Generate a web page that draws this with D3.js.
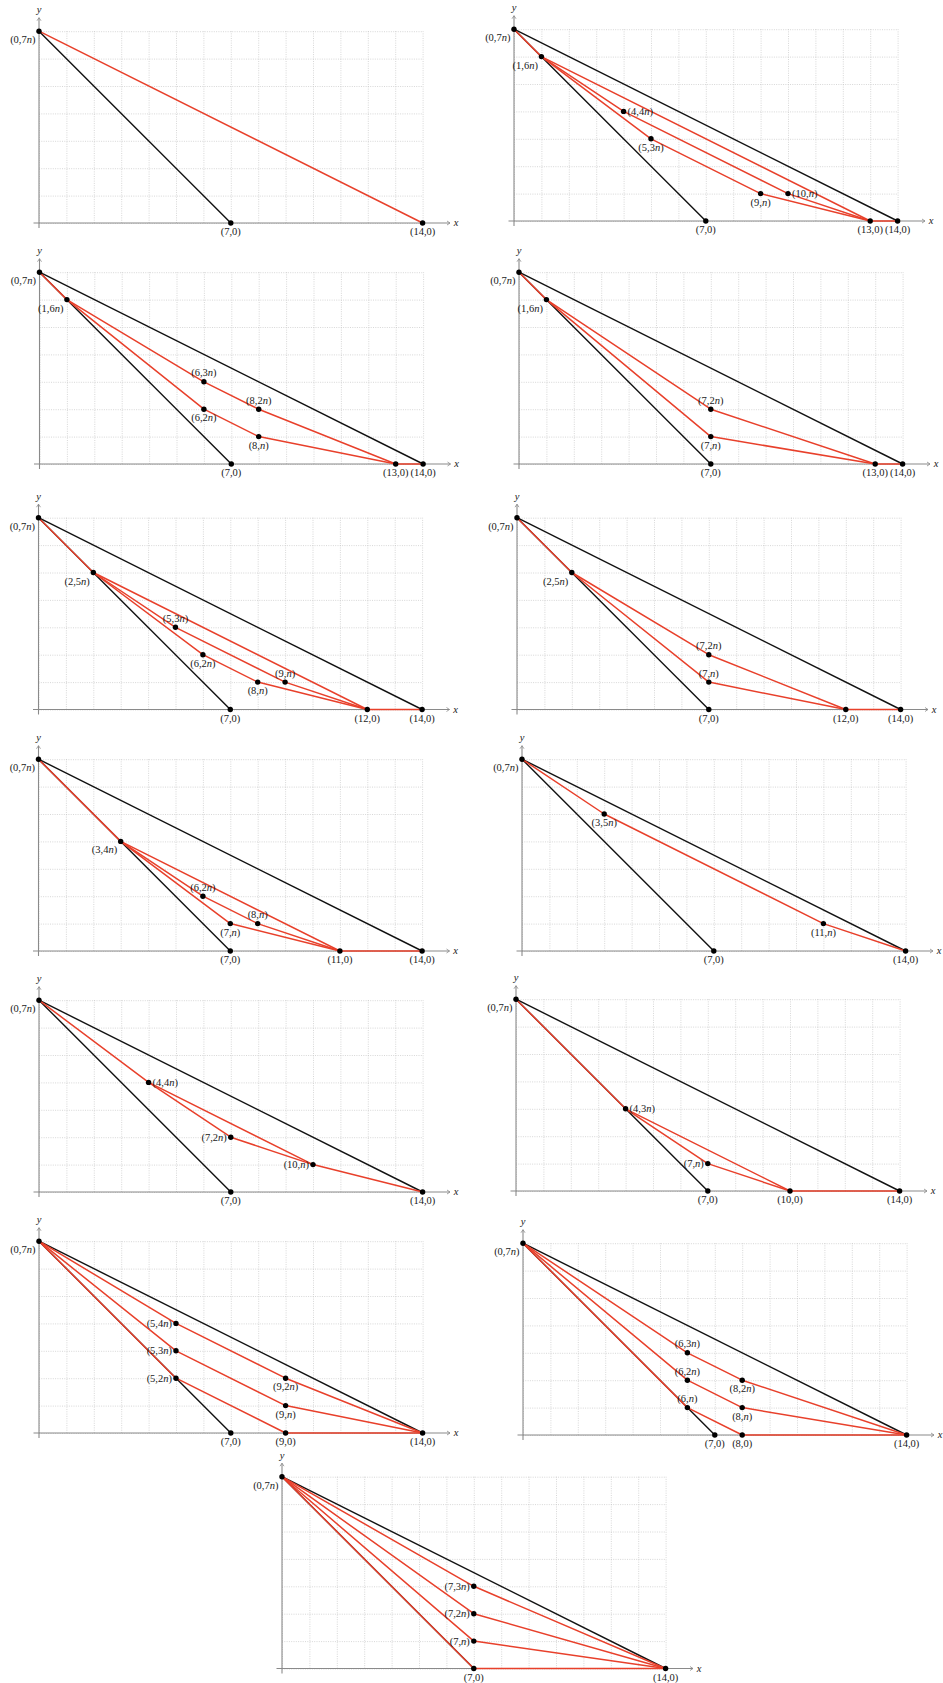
<!DOCTYPE html>
<html>
<head>
<meta charset="utf-8">
<script src="https://cdn.jsdelivr.net/npm/d3@7"></script>
<style>
  body { margin: 0; background: #fff; }
  text { font-family: "Liberation Serif", "DejaVu Serif", serif; font-size: 10.5px; fill: #1a1a1a; }
  .grid line { stroke: #bcbcbc; stroke-width: 0.6; stroke-dasharray: 1,1.3; }
  .grid path { display: none; }
</style>
</head>
<body>
<div id="container"></div>
<script>
// grid values (x in units, y in units of n)
let xValues = d3.range(0, 15)
let yValues = d3.range(0, 8)

// black reference triangle edges, per panel
let triangle = [[[0, 7], [7, 0]], [[0, 7], [14, 0]]]
let blackEdges = [[triangle[0]]].concat(d3.range(12).map(() => triangle))

// red paths, one list per panel
let redPaths = [
  [[[0, 7], [14, 0]]],
  [[[0, 7], [1, 6], [13, 0], [14, 0]], [[1, 6], [4, 4], [10, 1], [13, 0]], [[1, 6], [5, 3], [9, 1], [13, 0]]],
  [[[0, 7], [1, 6], [6, 3], [8, 2], [13, 0], [14, 0]], [[1, 6], [6, 2], [8, 1], [13, 0]]],
  [[[0, 7], [1, 6], [7, 2], [13, 0], [14, 0]], [[1, 6], [7, 1], [13, 0]]],
  [[[0, 7], [2, 5], [12, 0], [14, 0]], [[2, 5], [5, 3], [9, 1], [12, 0]], [[2, 5], [6, 2], [8, 1], [12, 0]]],
  [[[0, 7], [2, 5], [7, 2], [12, 0], [14, 0]], [[2, 5], [7, 1], [12, 0]]],
  [[[0, 7], [3, 4], [11, 0], [14, 0]], [[3, 4], [6, 2], [8, 1], [11, 0]], [[3, 4], [7, 1], [11, 0]]],
  [[[0, 7], [3, 5], [11, 1], [14, 0]]],
  [[[0, 7], [4, 4], [10, 1], [14, 0]], [[4, 4], [7, 2], [10, 1]]],
  [[[0, 7], [4, 3], [10, 0], [14, 0]], [[4, 3], [7, 1], [10, 0]]],
  [[[0, 7], [5, 4], [9, 2], [14, 0]], [[0, 7], [5, 3], [9, 1], [14, 0]], [[0, 7], [5, 2], [9, 0], [14, 0]]],
  [[[0, 7], [6, 3], [8, 2], [14, 0]], [[0, 7], [6, 2], [8, 1], [14, 0]], [[0, 7], [6, 1], [8, 0], [14, 0]]],
  [[[0, 7], [7, 3], [14, 0]], [[0, 7], [7, 2], [14, 0]], [[0, 7], [7, 1], [14, 0]], [[0, 7], [7, 0], [14, 0]]]
]

// labelled points per panel: x, y, side of the label
let marks = [
  [[0, 7, 'bl'], [7, 0, 'b'], [14, 0, 'b']],
  [[0, 7, 'bl'], [1, 6, 'bl'], [4, 4, 'r'], [5, 3, 'b'], [9, 1, 'b'], [10, 1, 'r'], [7, 0, 'b'], [13, 0, 'b'], [14, 0, 'b']],
  [[0, 7, 'bl'], [1, 6, 'bl'], [6, 3, 'a'], [8, 2, 'a'], [6, 2, 'b'], [8, 1, 'b'], [7, 0, 'b'], [13, 0, 'b'], [14, 0, 'b']],
  [[0, 7, 'bl'], [1, 6, 'bl'], [7, 2, 'a'], [7, 1, 'b'], [7, 0, 'b'], [13, 0, 'b'], [14, 0, 'b']],
  [[0, 7, 'bl'], [2, 5, 'bl'], [5, 3, 'a'], [6, 2, 'b'], [8, 1, 'b'], [9, 1, 'a'], [7, 0, 'b'], [12, 0, 'b'], [14, 0, 'b']],
  [[0, 7, 'bl'], [2, 5, 'bl'], [7, 2, 'a'], [7, 1, 'a'], [7, 0, 'b'], [12, 0, 'b'], [14, 0, 'b']],
  [[0, 7, 'bl'], [3, 4, 'bl'], [6, 2, 'a'], [8, 1, 'a'], [7, 1, 'b'], [7, 0, 'b'], [11, 0, 'b'], [14, 0, 'b']],
  [[0, 7, 'bl'], [3, 5, 'b'], [11, 1, 'b'], [7, 0, 'b'], [14, 0, 'b']],
  [[0, 7, 'bl'], [4, 4, 'r'], [7, 2, 'l'], [10, 1, 'l'], [7, 0, 'b'], [14, 0, 'b']],
  [[0, 7, 'bl'], [4, 3, 'r'], [7, 1, 'l'], [7, 0, 'b'], [10, 0, 'b'], [14, 0, 'b']],
  [[0, 7, 'bl'], [5, 4, 'l'], [5, 3, 'l'], [5, 2, 'l'], [9, 2, 'b'], [9, 1, 'b'], [7, 0, 'b'], [9, 0, 'b'], [14, 0, 'b']],
  [[0, 7, 'bl'], [6, 3, 'a'], [6, 2, 'a'], [6, 1, 'a'], [8, 2, 'b'], [8, 1, 'b'], [7, 0, 'b'], [8, 0, 'b'], [14, 0, 'b']],
  [[0, 7, 'bl'], [7, 3, 'l'], [7, 2, 'l'], [7, 1, 'l'], [7, 0, 'b'], [14, 0, 'b']]
]

// where each panel's origin sits on the page
let origins = [[39, 223], [514, 221], [39.5, 464], [519, 464], [38.5, 709.5], [517, 709.5],
  [38.5, 951], [522, 951], [39, 1192], [516, 1191], [39, 1433], [523, 1435], [282, 1668.5]]
let unit = 27.4
let red = '#e8402b'

let svg = d3.select('#container')
  .append('svg')
  .attr('width', 943)
  .attr('height', 1683)

let place = {
  bl: {anchor: 'end', dx: -3.5, dy: 12},
  b: {anchor: 'middle', dx: 0, dy: 12},
  a: {anchor: 'middle', dx: 0, dy: -5.5},
  r: {anchor: 'start', dx: 4, dy: 3.5},
  l: {anchor: 'end', dx: -4, dy: 3.5}
}

function addLabel(g, px, py, x, y, side) {
  let p = place[side]
  let t = g.append('text')
    .attr('x', px + p.dx)
    .attr('y', py + p.dy)
    .attr('text-anchor', p.anchor)
  t.append('tspan').text('(' + x + ',')
  if (y === 0) {
    t.append('tspan').text('0')
  } else {
    if (y > 1) t.append('tspan').text(y)
    t.append('tspan').attr('font-style', 'italic').text('n')
  }
  t.append('tspan').text(')')
}

origins.forEach((o, i) => {
  let xs = d3.scaleLinear().domain([0, 14]).range([o[0], o[0] + 14 * unit])
  let ys = d3.scaleLinear().domain([0, 7]).range([o[1], o[1] - 7 * unit])
  let g = svg.append('g')

  // dotted grid
  g.append('g').attr('class', 'grid')
    .attr('transform', 'translate(0,' + ys(0) + ')')
    .call(d3.axisBottom(xs).tickValues(xValues).tickSize(-(ys(0) - ys(7))).tickFormat(''))
  g.append('g').attr('class', 'grid')
    .attr('transform', 'translate(' + xs(0) + ',0)')
    .call(d3.axisLeft(ys).tickValues(yValues).tickSize(-(xs(14) - xs(0))).tickFormat(''))

  // axes with small arrow heads
  let xEnd = xs(15), yEnd = ys(7) - 13.5
  g.append('line').attr('x1', xs(0) - 5.5).attr('x2', xEnd).attr('y1', ys(0)).attr('y2', ys(0))
    .attr('stroke', '#8a8a8a').attr('stroke-width', 1.1)
  g.append('line').attr('x1', xs(0)).attr('x2', xs(0)).attr('y1', ys(0) + 5).attr('y2', yEnd)
    .attr('stroke', '#8a8a8a').attr('stroke-width', 1.1)
  g.append('path')
    .attr('d', 'M' + (xEnd - 3) + ',' + (ys(0) - 2) + 'L' + xEnd + ',' + ys(0) + 'L' + (xEnd - 3) + ',' + (ys(0) + 2))
    .attr('fill', 'none').attr('stroke', '#8a8a8a').attr('stroke-width', 0.8)
  g.append('path')
    .attr('d', 'M' + (xs(0) - 2) + ',' + (yEnd + 3) + 'L' + xs(0) + ',' + yEnd + 'L' + (xs(0) + 2) + ',' + (yEnd + 3))
    .attr('fill', 'none').attr('stroke', '#8a8a8a').attr('stroke-width', 0.8)
  g.append('text').attr('x', xEnd + 6).attr('y', ys(0) + 3).attr('text-anchor', 'middle')
    .attr('font-style', 'italic').text('x')
  g.append('text').attr('x', xs(0)).attr('y', ys(7) - 18).attr('text-anchor', 'middle')
    .attr('font-style', 'italic').text('y')

  let line = d3.line().x(d => xs(d[0])).y(d => ys(d[1]))

  g.selectAll('path.black')
    .data(blackEdges[i])
    .enter()
    .append('path')
    .attr('class', 'black')
    .attr('d', line)
    .attr('fill', 'none')
    .attr('stroke', '#111')
    .attr('stroke-width', 1.4)

  g.selectAll('path.red')
    .data(redPaths[i])
    .enter()
    .append('path')
    .attr('class', 'red')
    .attr('d', line)
    .attr('fill', 'none')
    .attr('stroke', red)
    .attr('stroke-width', 1.5)
    .attr('stroke-linejoin', 'round')

  g.selectAll('circle')
    .data(marks[i])
    .enter()
    .append('circle')
    .attr('cx', d => xs(d[0]))
    .attr('cy', d => ys(d[1]))
    .attr('r', 2.7)
    .attr('fill', '#000')

  marks[i].forEach(d => addLabel(g, xs(d[0]), ys(d[1]), d[0], d[1], d[2]))
})
</script>
</body>
</html>
